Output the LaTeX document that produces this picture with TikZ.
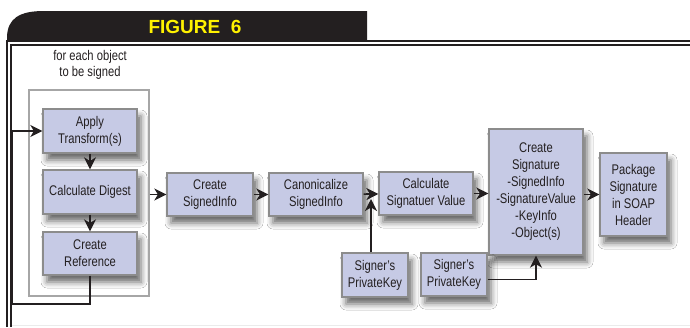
\documentclass[tikz,border=0pt]{standalone}
\usepackage{fontspec}
\setmainfont[FakeStretch=0.8]{Liberation Sans}
\newfontfamily\headfont{Liberation Sans}
\usetikzlibrary{arrows.meta,shadows.blur}
\definecolor{ink}{HTML}{231F20}
\definecolor{boxfill}{HTML}{C6CAE5}
\definecolor{boxline}{HTML}{8C8C8C}
\definecolor{headyellow}{HTML}{FFF200}
\tikzset{
  stepbox/.style={draw=boxline, line width=1.3pt, fill=boxfill, align=center,
    inner sep=0pt, text=ink, font=\fontsize{14}{17}\selectfont,
    blur shadow={shadow xshift=4pt, shadow yshift=-7pt, shadow blur radius=6pt, shadow opacity=60}},
  flow/.style={draw=ink, line width=1.6pt, -{Stealth[length=12pt,width=12pt,inset=3.5pt]}},
  loopline/.style={draw=ink, line width=1.6pt},
  frameline/.style={draw=ink, line width=1.1pt},
}
\begin{document}
\begin{tikzpicture}[x=1pt,y=-1pt]
\useasboundingbox (0,0) rectangle (690,327);
\fill[white] (0,0) rectangle (690,327);

% title tab
\fill[ink] (7,41) -- (7,38) .. controls (7,18) and (20,11) .. (44,11) -- (367,11) -- (367,41) -- cycle;
\node[text=headyellow, font=\headfont\bfseries\fontsize{19}{19}\selectfont] (title) at (195,27) {FIGURE\ \ 6};

% double frame lines
\draw[frameline] (7,327) -- (7,41) -- (690,41);
\draw[frameline] (11,327) -- (11,45) -- (690,45);
\draw[draw=black!8, line width=1pt] (12,325) -- (690,325);

% per-object loop
\node[text=ink, align=center, font=\fontsize{14}{16.5}\selectfont] (caption) at (90,65) {for each object\\to be signed};
\node[draw=black!35, line width=1.2pt, minimum width=120pt, minimum height=206pt, inner sep=0pt] (group) at (89,193) {};

\node[stepbox, minimum width=94pt, minimum height=44pt] (apply) at (90,131) {Apply\\Transform(s)};
\node[stepbox, minimum width=94pt, minimum height=44pt] (digest) at (90,192) {Calculate Digest};
\node[stepbox, minimum width=94pt, minimum height=43pt] (reference) at (90,253.5) {Create\\Reference};

% main pipeline
\node[stepbox, minimum width=86pt, minimum height=43pt] (signedinfo) at (210,194.5) {Create\\SignedInfo};
\node[stepbox, minimum width=94pt, minimum height=43pt] (canon) at (316,194.5) {Canonicalize\\SignedInfo};
\node[stepbox, minimum width=94pt, minimum height=43pt] (calcsig) at (426,193.5) {Calculate\\Signatuer Value};
\node[stepbox, minimum width=94pt, minimum height=126pt] (createsig) at (536,192) {Create\\Signature\\-SignedInfo\\-SignatureValue\\-KeyInfo\\-Object(s)};
\node[stepbox, minimum width=67pt, minimum height=83pt] (package) at (633.5,194.5) {Package\\Signature\\in SOAP\\Header};

\node[stepbox, minimum width=66pt, minimum height=44pt] (key1) at (375,275) {Signer's\\PrivateKey};
\node[stepbox, minimum width=66pt, minimum height=43pt] (key2) at (454,274.5) {Signer's\\PrivateKey};

\coordinate (loopc) at (12,304);
\coordinate (keyjoin) at (371,199);

% connectors
\draw[flow] (apply) -- (digest);
\draw[flow] (digest) -- (reference);
\draw[loopline, -{Stealth[length=12pt,width=12pt,inset=3.5pt]}] (reference.south) |- (loopc) |- (apply.west);
\draw[flow] (group.east |- signedinfo.west) -- (signedinfo.west);
\draw[flow] (signedinfo) -- (canon);
\draw[flow] (canon) -- (calcsig);
\draw[flow] (calcsig) -- (calcsig -| createsig.west);
\draw[flow] (createsig.east |- package.west) -- (package.west);
\draw[flow] (key1.north -| keyjoin) -- (keyjoin);
\draw[flow] ([yshift=-5pt]key2.east) -| (createsig.south);
\end{tikzpicture}
\end{document}
